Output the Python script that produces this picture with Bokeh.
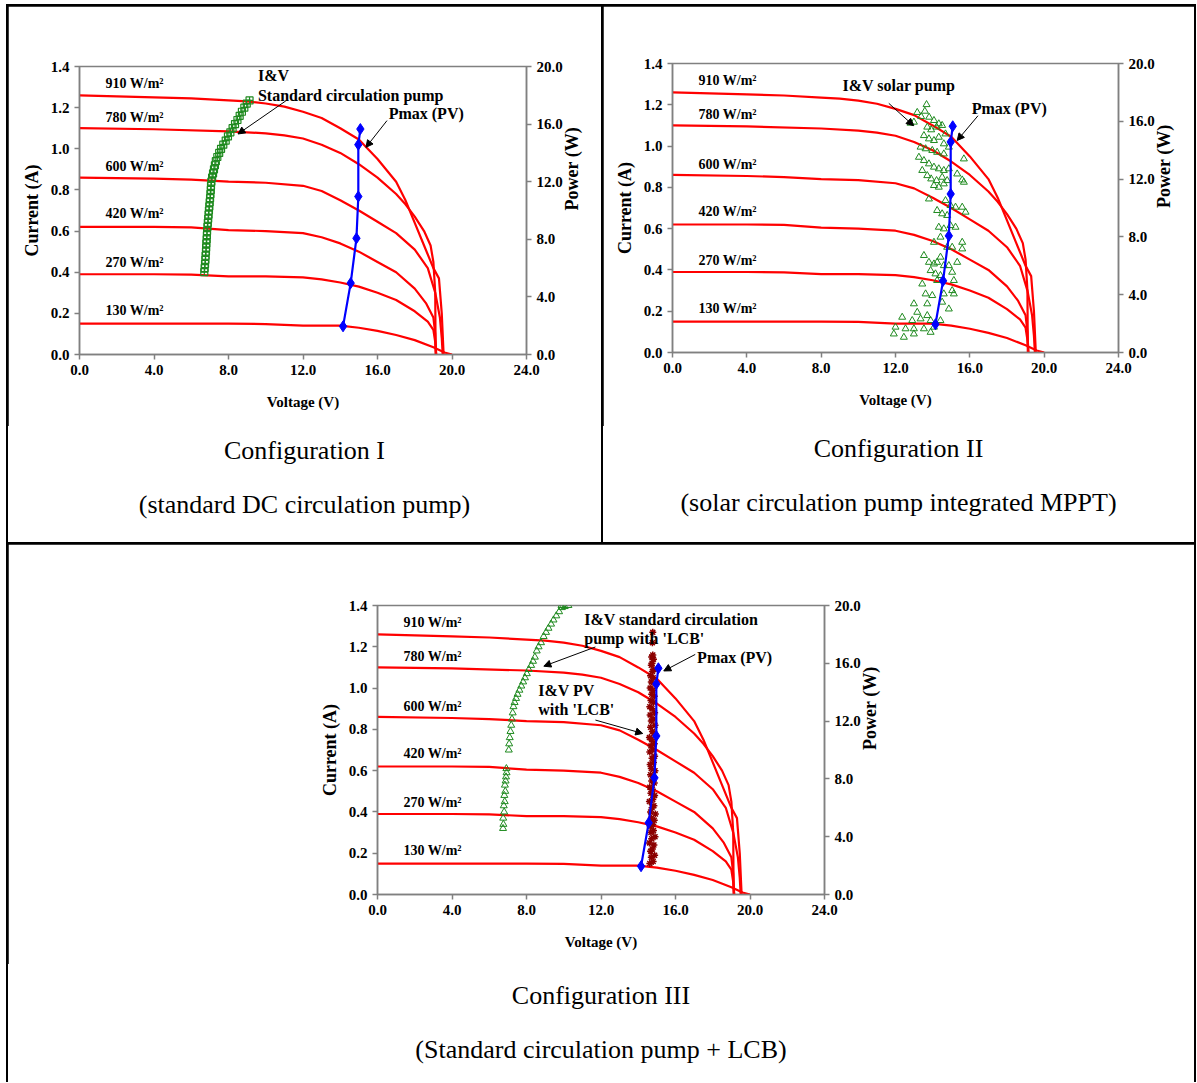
import math
from bokeh.plotting import figure
from bokeh.models import (Range1d, LinearAxis, FixedTicker, PrintfTickFormatter,
                          Label, Arrow, NormalHead, Div)
from bokeh.layouts import row, column
from bokeh.embed import file_html
from bokeh.resources import INLINE

SERIF = "Liberation Serif"

# ---------------- data ----------------
VOLTAGE_TICKS = [0, 4, 8, 12, 16, 20, 24]
CURRENT_TICKS = [0.0, 0.2, 0.4, 0.6, 0.8, 1.0, 1.2, 1.4]
POWER_TICKS = [0, 4, 8, 12, 16, 20]

IRRADIANCE = ["910 W/m²", "780 W/m²", "600 W/m²", "420 W/m²", "270 W/m²", "130 W/m²"]
IRR_LABEL_I = [1.318, 1.152, 0.913, 0.684, 0.448, 0.215]

v_910 = [0, 2, 4, 6, 8, 9, 10, 11, 12, 13, 14, 15, 16, 17, 17.5, 18, 18.5, 19.0, 19.3, 19.45, 19.55]
i_910 = [1.26, 1.255, 1.25, 1.245, 1.235, 1.23, 1.22, 1.205, 1.18, 1.15, 1.10, 1.045, 0.95, 0.84, 0.75, 0.64, 0.53, 0.42, 0.37, 0.20, 0.0]
v_780 = [0, 4, 8, 10, 11, 12, 13, 14, 15, 16, 17, 17.5, 18, 18.5, 18.85, 19.0, 19.1, 19.12]
i_780 = [1.10, 1.095, 1.085, 1.075, 1.065, 1.05, 1.02, 0.98, 0.925, 0.86, 0.78, 0.73, 0.67, 0.60, 0.53, 0.45, 0.30, 0.0]
v_600 = [0, 4, 6, 8, 10, 12, 13, 14, 15, 16, 17, 18, 18.7, 19.1, 19.35, 19.45, 19.5]
i_600 = [0.86, 0.855, 0.85, 0.84, 0.835, 0.82, 0.795, 0.75, 0.70, 0.645, 0.59, 0.51, 0.42, 0.30, 0.18, 0.08, 0.0]
v_420 = [0, 4, 6, 8, 10, 12, 13, 14, 15, 16, 17, 18, 18.6, 19.0, 19.1, 19.15]
i_420 = [0.62, 0.62, 0.618, 0.605, 0.60, 0.59, 0.57, 0.54, 0.50, 0.45, 0.40, 0.32, 0.25, 0.18, 0.10, 0.0]
v_270 = [0, 4, 6, 8, 10, 12, 13, 14, 15, 16, 17, 18, 18.7, 19.0, 19.1, 19.15]
i_270 = [0.39, 0.39, 0.388, 0.38, 0.38, 0.375, 0.365, 0.35, 0.33, 0.30, 0.265, 0.21, 0.16, 0.12, 0.06, 0.0]
v_130 = [0, 4, 8, 10, 12, 13, 14, 15, 16, 17, 18, 19, 19.6, 20.0]
i_130 = [0.15, 0.15, 0.15, 0.148, 0.14, 0.14, 0.14, 0.13, 0.115, 0.095, 0.07, 0.035, 0.01, 0.0]

IV_CURVES = [(v_910, i_910), (v_780, i_780), (v_600, i_600),
             (v_420, i_420), (v_270, i_270), (v_130, i_130)]

pmax_v = [14.15, 14.56, 14.87, 14.97, 14.97, 15.08]
pmax_i = [0.137, 0.347, 0.565, 0.768, 1.02, 1.096]

# Configuration I : standard circulation pump
std_v = [6.70, 6.72, 6.74, 6.76, 6.77, 6.79, 6.80, 6.81, 6.83, 6.84, 6.85, 6.87, 6.89, 6.91,
         6.93, 6.95, 6.97, 6.99, 7.01, 7.03, 7.05, 7.06, 7.08, 7.12, 7.17, 7.22, 7.27, 7.32,
         7.40, 7.50, 7.60, 7.72, 7.85, 7.97, 8.10, 8.22, 8.35, 8.48, 8.60, 8.72, 8.85, 8.98, 9.13]
std_i = [0.40, 0.42, 0.44, 0.46, 0.48, 0.50, 0.52, 0.54, 0.56, 0.58, 0.60, 0.62, 0.64, 0.66,
         0.68, 0.70, 0.72, 0.74, 0.76, 0.78, 0.80, 0.82, 0.84, 0.86, 0.88, 0.90, 0.92, 0.94,
         0.96, 0.98, 1.00, 1.02, 1.04, 1.06, 1.08, 1.10, 1.12, 1.14, 1.16, 1.18, 1.20, 1.22, 1.235]

# Configuration II : solar pump (MPPT)
sol_v = [13.67, 13.58, 13.17, 13.38, 13.81, 14.07, 14.33, 12.99, 12.81, 13.71, 13.92, 14.21,
         14.51, 14.69, 13.53, 13.80, 14.07, 14.33, 14.60, 14.87, 13.35, 13.62, 13.98, 14.24,
         14.60, 15.68, 13.26, 13.53, 13.80, 14.07, 14.33, 14.60, 14.87, 13.44, 13.71, 13.92,
         14.21, 14.51, 14.78, 15.32, 15.59, 15.68, 14.07, 14.33, 14.60, 13.80, 14.69, 14.96,
         15.23, 15.59, 15.77, 14.24, 14.51, 14.78, 14.33, 14.60, 14.96, 15.23, 14.07, 14.42,
         14.78, 15.05, 15.59, 15.59, 13.53, 13.80, 14.07, 14.24, 14.42, 14.60, 14.87, 15.32,
         13.89, 14.15, 14.42, 15.05, 13.44, 14.24, 15.14, 13.62, 13.98, 14.60, 15.05, 15.14,
         12.99, 13.71, 14.51, 14.87, 13.17, 13.71, 12.36, 12.90, 13.35, 13.89, 14.42, 12.00,
         12.54, 12.99, 13.53, 11.91, 12.45, 12.99, 13.89, 14.07]
sol_i = [1.201, 1.169, 1.163, 1.143, 1.140, 1.124, 1.108, 1.116, 1.111, 1.092, 1.079, 1.092,
         1.100, 1.059, 1.051, 1.035, 1.027, 1.043, 1.011, 0.995, 0.995, 0.987, 0.979, 0.970,
         0.962, 0.938, 0.946, 0.930, 0.914, 0.898, 0.890, 0.882, 0.890, 0.882, 0.857, 0.841,
         0.833, 0.849, 0.833, 0.865, 0.836, 0.825, 0.809, 0.801, 0.817, 0.744, 0.736, 0.712,
         0.704, 0.704, 0.680, 0.688, 0.672, 0.664, 0.607, 0.599, 0.615, 0.607, 0.534, 0.559,
         0.510, 0.510, 0.502, 0.534, 0.470, 0.437, 0.429, 0.437, 0.462, 0.421, 0.421, 0.437,
         0.397, 0.381, 0.373, 0.389, 0.332, 0.349, 0.349, 0.284, 0.276, 0.284, 0.300, 0.284,
         0.236, 0.236, 0.244, 0.211, 0.195, 0.179, 0.171, 0.155, 0.163, 0.155, 0.155, 0.123,
         0.115, 0.115, 0.115, 0.090, 0.074, 0.090, 0.098, 0.123]

# Configuration III : standard pump with LCB
lcbp_v = [6.74, 6.76, 6.75, 6.80, 6.78, 6.83, 6.81, 6.86, 6.84, 6.88, 6.90, 6.93, 6.92,
          7.05, 7.07, 7.10, 7.14, 7.18, 7.22, 7.26, 7.30, 7.36, 7.44, 7.52, 7.62, 7.72,
          7.82, 7.92, 8.02, 8.12, 8.25, 8.35, 8.45, 8.55, 8.65, 8.78, 8.92, 9.05, 9.18,
          9.32, 9.45, 9.60, 9.75, 9.90, 10.05, 10.25, 9.88]
lcbp_i = [0.32, 0.34, 0.37, 0.40, 0.43, 0.45, 0.48, 0.50, 0.53, 0.55, 0.57, 0.59, 0.61,
          0.70, 0.73, 0.76, 0.79, 0.82, 0.85, 0.88, 0.91, 0.93, 0.95, 0.97, 0.99, 1.01,
          1.03, 1.05, 1.07, 1.09, 1.11, 1.13, 1.15, 1.18, 1.20, 1.22, 1.25, 1.27, 1.29,
          1.31, 1.33, 1.35, 1.37, 1.39, 1.395, 1.40, 1.40]

lcb_pv_v = [14.62, 14.80, 14.70, 14.88, 14.66, 14.76, 14.84, 14.60, 14.72, 14.90,
            14.68, 14.82, 14.64, 14.78, 14.86, 14.70, 14.92, 14.66, 14.74, 14.84,
            14.60, 14.78, 14.88, 14.68, 14.76, 14.62, 14.86, 14.72, 14.80, 14.66,
            14.90, 14.70, 14.64, 14.82, 14.74, 14.88, 14.62, 14.78, 14.68, 14.86,
            14.72, 14.60, 14.84, 14.76, 14.66, 14.90, 14.70, 14.80, 14.64, 14.88,
            14.74, 14.62, 14.82, 14.68, 14.86, 14.72, 14.78, 14.64, 14.90, 14.70,
            14.80, 14.66, 14.76, 14.84, 14.70, 14.74, 14.82, 14.72, 14.78, 14.76, 14.78]
lcb_pv_i = [0.15, 0.16, 0.18, 0.19, 0.21, 0.22, 0.24, 0.25, 0.27, 0.28,
            0.30, 0.31, 0.33, 0.34, 0.36, 0.37, 0.39, 0.40, 0.42, 0.43,
            0.45, 0.46, 0.48, 0.49, 0.51, 0.52, 0.54, 0.55, 0.57, 0.58,
            0.60, 0.61, 0.63, 0.64, 0.66, 0.67, 0.69, 0.70, 0.72, 0.73,
            0.75, 0.76, 0.78, 0.79, 0.81, 0.82, 0.84, 0.85, 0.87, 0.88,
            0.90, 0.91, 0.93, 0.94, 0.96, 0.97, 0.99, 1.00, 1.02, 1.03,
            1.05, 1.06, 1.08, 1.09, 1.11, 1.12, 1.14, 1.15, 1.16, 1.22, 1.27]

CAPTIONS = [("Configuration I", "(standard DC circulation pump)"),
            ("Configuration II", "(solar circulation pump integrated MPPT)"),
            ("Configuration III", "(Standard circulation pump + LCB)")]

# ---------------- styling ----------------
RED = "#ff0000"
BLUE = "#0000ff"
GREEN = "#1f8a1f"
MAROON = "#8b0000"
AXIS_GRAY = "#808080"
IRR_FONT = "14px"
NOTE_FONT = "16px"
TICK_FONT = "15px"
XLABEL_FONT = "15px"
YLABEL_FONT = "18px"
CAPTION_PX = 26


def make_chart(w, h, ml, mt, mr, mb):
    p = figure(width=w, height=h, x_range=Range1d(0, 24), y_range=Range1d(0, 1.4),
               output_backend="svg", toolbar_location=None,
               min_border_left=ml, min_border_top=mt, min_border_right=mr, min_border_bottom=mb,
               background_fill_color="white", border_fill_color="white",
               x_axis_label="Voltage (V)", y_axis_label="Current (A)")
    p.extra_y_ranges = {"power": Range1d(0, 20)}
    ra = LinearAxis(y_range_name="power", axis_label="Power (W)")
    try:
        ra.axis_label_orientation = math.pi / 2
    except Exception:
        pass
    p.add_layout(ra, "right")
    p.grid.visible = False
    p.outline_line_color = AXIS_GRAY
    p.outline_line_width = 1.5
    p.below[0].ticker = FixedTicker(ticks=VOLTAGE_TICKS)
    p.left[0].ticker = FixedTicker(ticks=CURRENT_TICKS)
    ra.ticker = FixedTicker(ticks=POWER_TICKS)
    for ax in (p.below[0], p.left[0], ra):
        ax.formatter = PrintfTickFormatter(format="%.1f")
        ax.axis_line_color = AXIS_GRAY
        ax.axis_line_width = 1.5
        ax.major_tick_line_color = AXIS_GRAY
        ax.major_tick_line_width = 1.5
        ax.major_tick_out = 5
        ax.major_tick_in = 0
        ax.minor_tick_line_color = None
        ax.major_label_text_font = SERIF
        ax.major_label_text_font_style = "bold"
        ax.major_label_text_font_size = TICK_FONT
        ax.major_label_text_color = "black"
        ax.axis_label_text_font = SERIF
        ax.axis_label_text_font_style = "bold"
        ax.axis_label_text_color = "black"
    p.below[0].axis_label_text_font_size = XLABEL_FONT
    p.left[0].axis_label_text_font_size = YLABEL_FONT
    ra.axis_label_text_font_size = YLABEL_FONT
    p.below[0].axis_label_standoff = 16
    p.left[0].axis_label_standoff = 6
    ra.axis_label_standoff = 6

    for (vv, ii) in IV_CURVES:
        p.line(vv, ii, line_color=RED, line_width=2.2)
    for txt, yy in zip(IRRADIANCE, IRR_LABEL_I):
        p.add_layout(Label(x=1.4, y=yy, text=txt, text_font=SERIF, text_font_style="bold",
                           text_font_size=IRR_FONT, text_align="left", text_baseline="middle",
                           text_color="black"))
    return p


def add_text(p, x, y, txt):
    p.add_layout(Label(x=x, y=y, text=txt, text_font=SERIF, text_font_style="bold",
                       text_font_size=NOTE_FONT, text_align="left", text_baseline="middle",
                       text_color="black"))


def add_arrow(p, x0, y0, x1, y1):
    p.add_layout(Arrow(end=NormalHead(size=7, fill_color="black", line_color="black"),
                       x_start=x0, y_start=y0, x_end=x1, y_end=y1,
                       line_color="black", line_width=1))


def add_pmax(p):
    p.line(pmax_v, pmax_i, line_color=BLUE, line_width=2.2)
    p.scatter(pmax_v, pmax_i, marker="diamond", size=11, fill_color=BLUE, line_color=BLUE)


def caption_div(width, height, c1, c2, texts):
    line = 32
    html = (
        f'<div style="position:relative;width:{width}px;height:{height}px;'
        f'font-family:\'{SERIF}\',serif;font-size:{CAPTION_PX}px;color:black;">'
        f'<div style="position:absolute;left:0;right:0;top:{c1 - line // 2}px;height:{line}px;'
        f'line-height:{line}px;text-align:center;white-space:nowrap;">{texts[0]}</div>'
        f'<div style="position:absolute;left:0;right:0;top:{c2 - line // 2}px;height:{line}px;'
        f'line-height:{line}px;text-align:center;white-space:nowrap;">{texts[1]}</div>'
        f'</div>')
    return Div(text=html, width=width, height=height,
               styles={"background-color": "white", "margin": "0", "padding": "0",
                       "font-family": SERIF})


# ---- Configuration I ----
f1 = make_chart(593, 420, 71, 60, 75, 72)
f1.scatter(std_v, std_i, marker="square_cross", size=7, fill_color=None, line_color=GREEN, line_width=1.2)
add_pmax(f1)
add_text(f1, 9.58, 1.355, "I&V")
add_text(f1, 9.58, 1.258, "Standard circulation pump")
add_arrow(f1, 11.08, 1.233, 8.51, 1.072)
add_text(f1, 16.6, 1.172, "Pmax (PV)")
add_arrow(f1, 16.51, 1.137, 15.38, 1.007)
cap1 = caption_div(593, 116, 25, 79, CAPTIONS[0])

# ---- Configuration II ----
f2 = make_chart(591, 420, 69, 57, 76, 74)
f2.scatter(sol_v, sol_i, marker="triangle", size=7, fill_color=None, line_color=GREEN, line_width=1)
add_pmax(f2)
add_text(f2, 9.15, 1.292, "I&V solar pump")
add_arrow(f2, 11.64, 1.207, 12.97, 1.099)
add_text(f2, 16.1, 1.18, "Pmax (PV)")
add_arrow(f2, 16.44, 1.147, 15.32, 1.027)
cap2 = caption_div(591, 116, 23, 77, CAPTIONS[1])

# ---- Configuration III ----
f3 = make_chart(1186, 420, 369, 61, 370, 70)
f3.scatter(lcbp_v, lcbp_i, marker="triangle", size=7, fill_color=None, line_color=GREEN, line_width=1)
f3.scatter(lcb_pv_v, lcb_pv_i, marker="asterisk", size=7, line_color=MAROON, line_width=1.5)
add_pmax(f3)
add_text(f3, 11.1, 1.331, "I&V standard circulation")
add_text(f3, 11.1, 1.239, "pump with 'LCB'")
add_arrow(f3, 11.7, 1.199, 8.93, 1.106)
add_text(f3, 17.16, 1.146, "Pmax (PV)")
add_arrow(f3, 17.06, 1.163, 15.37, 1.083)
add_text(f3, 8.63, 0.99, "I&V PV")
add_text(f3, 8.63, 0.897, "with 'LCB'")
add_arrow(f3, 11.7, 0.845, 14.24, 0.78)
cap3 = caption_div(1186, 118, 32, 86, CAPTIONS[2])

top = row(column(f1, cap1, spacing=0), column(f2, cap2, spacing=0), spacing=2)
root = column(top, column(f3, cap3, spacing=0), spacing=2,
              styles={"background-color": "black", "padding": "2px 2px 0px 2px",
                      "margin": "4px 0px -20px 6px"})

open("out.html", "w").write(file_html(root, INLINE))
